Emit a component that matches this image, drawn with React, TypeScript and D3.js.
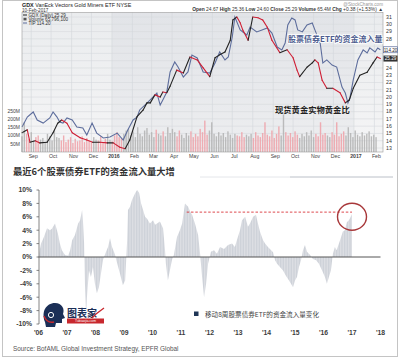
import React from "react";
import * as d3 from "d3";

// ---------- Top chart (StockCharts GDX) ----------
const gdxDates = [
  "2015-08-18","2015-08-26","2015-08-30","2015-09-07","2015-09-14","2015-09-25","2015-10-04","2015-10-11",
  "2015-10-17","2015-10-25","2015-11-02","2015-11-14","2015-11-24","2015-12-03","2015-12-14","2015-12-25",
  "2016-01-03","2016-01-13","2016-01-21","2016-01-28","2016-02-08","2016-02-17","2016-02-23","2016-02-28",
  "2016-03-06","2016-03-14","2016-03-18","2016-03-24","2016-03-29","2016-04-08","2016-04-18","2016-04-28",
  "2016-05-09","2016-05-18","2016-05-28","2016-06-05","2016-06-12","2016-06-20","2016-06-28","2016-07-02",
  "2016-07-08","2016-07-13","2016-07-17","2016-07-25","2016-08-01","2016-08-09","2016-08-16","2016-08-23",
  "2016-08-30","2016-09-11","2016-09-22","2016-10-01","2016-10-07","2016-10-11","2016-10-22","2016-10-30",
  "2016-11-03","2016-11-08","2016-11-14","2016-11-21","2016-11-30","2016-12-11","2016-12-19","2016-12-25",
  "2016-12-31","2017-01-10","2017-01-21","2017-01-30","2017-02-05","2017-02-10"
];
const gdxClose = [
  15.1,15.5,13.8,14.0,13.7,13.8,15.1,16.4,
  16.85,16.4,15.1,14.4,14.1,13.8,13.8,13.7,
  13.7,13.1,12.9,14.1,17.3,18.2,19.2,19.2,
  20.3,20.0,20.7,20.6,21.5,23.7,23.3,25.5,
  25.1,24.0,22.8,25.4,25.8,26.2,27.8,30.6,
  31.0,30.2,29.2,27.8,31.0,30.9,30.6,29.6,
  27.8,26.1,26.5,25.4,23.7,22.8,24.1,24.7,
  25.1,24.7,22.3,21.2,21.2,20.6,19.2,19.6,
  21.2,23.0,23.4,24.7,25.5,25.29
];
const tipDates = [
  "2015-08-18","2015-08-26","2015-09-04","2015-09-10","2015-09-19","2015-09-29","2015-10-04","2015-10-10",
  "2015-10-14","2015-10-19","2015-10-25","2015-11-02","2015-11-09","2015-11-18","2015-11-24","2015-12-02",
  "2015-12-09","2015-12-19","2015-12-29","2016-01-09","2016-01-18","2016-01-25","2016-02-02","2016-02-08",
  "2016-02-12","2016-02-23","2016-03-03","2016-03-09","2016-03-14","2016-03-18","2016-03-24","2016-03-29",
  "2016-04-05","2016-04-10","2016-04-18","2016-04-25","2016-05-01","2016-05-09","2016-05-18","2016-05-28",
  "2016-06-05","2016-06-12","2016-06-20","2016-06-25","2016-07-01","2016-07-05","2016-07-13","2016-07-23",
  "2016-07-28","2016-08-07","2016-08-15","2016-08-23","2016-08-30","2016-09-07","2016-09-14","2016-09-19",
  "2016-09-23","2016-09-29","2016-10-04","2016-10-08","2016-10-15","2016-10-22","2016-10-30","2016-11-03",
  "2016-11-11","2016-11-15","2016-11-21","2016-11-29","2016-12-06","2016-12-14","2016-12-19","2016-12-23",
  "2016-12-26","2016-12-31","2017-01-07","2017-01-15","2017-01-21","2017-01-25","2017-02-02","2017-02-06",
  "2017-02-10"
];
const tipClose = [
  109.95,110.5,110.78,110.34,110.17,110.45,110.78,110.5,
  110.23,110.17,110.45,110.34,109.95,109.9,109.51,110.17,
  109.62,109.35,109.4,109.62,109.24,109.79,110.34,110.5,
  110.89,111.27,111.6,111.82,111.16,111.44,111.88,112.98,
  113.53,113.25,112.7,112.98,113.91,113.75,112.98,112.92,
  113.47,114.08,113.64,113.8,114.9,116.0,115.29,115.01,
  115.45,115.18,115.29,115.4,115.12,114.35,114.19,114.57,
  115.56,115.95,115.84,115.29,115.18,115.56,115.67,115.29,
  114.57,113.47,113.64,113.36,113.25,112.15,111.82,111.27,
  111.55,112.54,113.64,114.19,114.02,114.3,114.08,114.3,
  114.2
];
const volumeStart = "2015-08-18";
const volumeM = [
  95,180,110,80,120,70,90,100,75,85,60,110,95,70,130,90,
  85,70,100,60,75,90,55,80,65,70,95,60,85,70,60,90,75,
  70,95,60,80,110,75,65,100,120,90,85,110,130,
  140,100,125,90,150,110,95,130,145,105,120,90,135,110,100,125,95,150,115,140,
  120,95,130,105,85,115,100,125,90,110,95,140,120,190,105,
  130,180,110,95,120,100,115,90,125,105,85,110,100,95,120,90,105,
  95,110,85,120,100,90,115,180,105,95,130,85,110,155,100,235,120,
  100,115,90,125,105,85,110,95,120,100,130,90,110,95,180,105,115,
  100,90,120,105,180,95,110,125,100,150,115,90,130,105,95,120,100,110,125,95,105,90
];
const monthTickDates = [
  "2015-09-01","2015-10-01","2015-11-01","2015-12-01","2016-01-01","2016-02-01","2016-03-01","2016-04-01","2016-05-01",
  "2016-06-01","2016-07-01","2016-08-01","2016-09-01","2016-10-01","2016-11-01","2016-12-01","2017-01-01","2017-02-01"
];
const monthTickLabels = ["Sep","Oct","Nov","Dec","2016","Feb","Mar","Apr","May","Jun","Jul","Aug","Sep","Oct","Nov","Dec","2017","Feb"];
const priceTicks = [13,14,15,16,17,18,19,20,21,22,23,24,25,26,27,28,29,30,31];
const volumeTicks = [50,100,150,200,250];
const volumeTickLabels = ["50M","100M","150M","200M","250M"];
const lastGdx = 25.29;
const lastTip = 114.2;

// ---------- Bottom chart (8-week equity/bond ETF flows) ----------
const flowYears = [
  2006.02,2006.09,2006.19,2006.30,2006.40,2006.47,2006.58,2006.68,2006.75,2006.82,2006.93,
  2007.04,2007.11,2007.18,2007.28,2007.39,2007.46,2007.53,2007.56,2007.60,2007.63,2007.67,2007.70,2007.77,2007.84,2007.91,2007.98,
  2008.05,2008.12,2008.19,2008.26,2008.37,2008.44,2008.51,2008.58,2008.68,2008.75,2008.86,2008.96,
  2009.04,2009.07,2009.11,2009.14,2009.21,2009.28,2009.39,2009.46,2009.53,2009.60,2009.67,2009.74,2009.81,2009.91,
  2010.02,2010.09,2010.16,2010.26,2010.37,2010.44,2010.47,2010.54,2010.61,2010.68,2010.75,2010.86,2010.96,
  2011.04,2011.14,2011.25,2011.32,2011.39,2011.49,2011.60,2011.67,2011.74,2011.81,2011.88,2011.95,
  2012.05,2012.16,2012.26,2012.37,2012.51,2012.65,2012.79,2012.89,2012.96,
  2013.07,2013.14,2013.25,2013.35,2013.42,2013.53,2013.63,2013.70,2013.77,2013.88,2013.95,
  2014.05,2014.12,2014.23,2014.30,2014.37,2014.47,2014.58,2014.68,2014.79,2014.86,2014.93,
  2015.00,2015.07,2015.14,2015.21,2015.28,2015.35,2015.42,2015.53,2015.63,2015.74,2015.84,2015.95,
  2016.05,2016.12,2016.19,2016.26,2016.33,2016.40,2016.46,2016.58,2016.68,2016.75,2016.82,2016.89,2016.93,2017.00
];
const flowPct = [
  0.5,2.0,3.0,4.3,4.0,4.2,5.0,3.5,2.0,1.0,0.3,
  0.2,1.0,2.5,3.3,5.0,5.5,7.0,5.4,2.0,-4.0,-8.7,-6.0,-2.0,-3.0,-1.5,-4.0,
  -5.4,-4.5,-2.5,-0.5,0.8,1.5,2.8,1.5,0.4,-0.8,-2.5,-4.2,
  -3.5,-1.0,2.5,7.0,7.5,8.5,9.5,10.0,9.6,8.0,7.0,6.0,5.7,5.0,
  5.5,4.8,5.0,5.3,4.3,1.0,-1.0,-3.5,-2.0,-0.5,0.3,3.0,4.0,
  5.0,8.0,7.5,6.8,6.3,5.0,3.3,0.5,-3.0,-6.0,-4.0,-1.0,
  0.8,1.0,0.5,1.5,1.2,1.8,2.0,1.5,2.5,
  4.0,5.5,6.0,4.5,5.0,6.0,6.3,5.0,3.8,2.5,2.0,
  1.5,1.2,0.7,-0.5,-1.0,-1.5,-2.0,-2.8,-3.5,-4.0,-4.5,
  -3.5,-3.0,-1.5,-0.5,1.0,1.8,0.8,0.3,-0.3,-0.5,-1.0,-2.0,
  -3.0,-4.0,-3.0,-2.0,0.5,1.5,1.0,2.5,3.8,4.0,5.2,5.5,5.8,6.4
];
const flowTicks = [-10,-8,-6,-4,-2,0,2,4,6,8,10];
const yearTicks = [2006,2007,2008,2009,2010,2011,2012,2013,2014,2015,2016,2017,2018];
const yearTickLabels = ["'06","'07","'08","'09","'10","'11","'12","'13","'14","'15","'16","'17","'18"];
const highlightLevel = 6.7;
const highlightFrom = 2011.2;
const highlightTo = 2017.0;
const circleCenter = { year: 2017.0, pct: 6.0 };

const LAT = "'Liberation Sans', Arial, sans-serif";
const CJK = "'Noto Sans CJK SC', 'Liberation Sans', sans-serif";

export default function App() {
  const parse = d3.timeParse("%Y-%m-%d")!;
  const gd = gdxDates.map((d) => parse(d)!);
  const td = tipDates.map((d) => parse(d)!);
  const mt = monthTickDates.map((d) => parse(d)!);
  const vStart = parse(volumeStart)!;
  const vd = volumeM.map((_, i) => d3.timeHour.offset(vStart, i * 84));

  const x = d3.scaleTime().domain([parse("2015-08-18")!, parse("2017-02-14")!]).range([22, 383]);
  const yP = d3.scaleLinear().domain([13, 31]).range([148, 17]);
  const yT = d3.scaleLinear().domain([108.8, 116]).range([148, 17]);
  const yV = d3.scaleLinear().domain([0, 250]).range([152, 110.7]);
  const priceAt = d3.scaleTime<number>().domain(gd).range(gdxClose).clamp(true);

  const tipLine = d3.line<number>().x((_, i) => x(td[i])).y((v) => yT(v))(tipClose) || "";

  const plotL = 22, plotR = 383, plotT = 12.5, plotB = 152;
  const y2016a = x(parse("2016-01-01")!);
  const y2017a = x(parse("2017-01-01")!);
  const tagYs = [yT(lastTip), yP(lastGdx)];

  // bottom
  const xb = d3.scaleLinear().domain([2006, 2018]).range([38.5, 380.5]);
  const yb = d3.scaleLinear().domain([-10, 10]).range([324, 190]);
  const area = d3.area<number>().x((_, i) => xb(flowYears[i])).y0(yb(0)).y1((v) => yb(v))(flowPct) || "";

  return (
    <svg width={400} height={359} style={{ position: "absolute", left: 0, top: 0, background: "#fff" }}>
      <defs>
        <pattern id="stripes" width={1.6} height={4} patternUnits="userSpaceOnUse">
          <rect width={1.6} height={4} fill="#e4e6ea" />
          <rect width={1} height={4} fill="#ccd0d7" />
        </pattern>
        <linearGradient id="bgL" x1="0" y1="0" x2="0" y2="1">
          <stop offset="0" stopColor="#eaecee" />
          <stop offset="1" stopColor="#f5f5f6" />
        </linearGradient>
        <linearGradient id="bgD" x1="0" y1="0" x2="0" y2="1">
          <stop offset="0" stopColor="#e2e4e8" />
          <stop offset="1" stopColor="#edeef0" />
        </linearGradient>
      </defs>
      <rect x={2.5} y={0.5} width={395} height={356} fill="#fff" stroke="#c4c4c4" />

      {/* ---------- top chart ---------- */}
      <rect x={plotL} y={plotT} width={y2016a - plotL} height={plotB - plotT} fill="url(#bgL)" />
      <rect x={y2016a} y={plotT} width={y2017a - y2016a} height={plotB - plotT} fill="url(#bgD)" />
      <rect x={y2017a} y={plotT} width={plotR - y2017a} height={plotB - plotT} fill="url(#bgL)" />
      {priceTicks.map((p) => (
        <line key={"hp" + p} x1={plotL} x2={plotR} y1={yP(p)} y2={yP(p)} stroke="#d6dade" strokeWidth={0.6} />
      ))}
      {mt.map((d, i) => (
        <line key={"vm" + i} x1={x(d)} x2={x(d)} y1={plotT} y2={plotB} stroke="#d3d7dc" strokeWidth={0.6} />
      ))}
      {volumeM.map((v, i) => {
        const t = vd[i];
        const down = priceAt(d3.timeHour.offset(t, 84)) < priceAt(t);
        return (
          <rect key={"v" + i} x={x(t) - 0.7} y={yV(v)} width={1.4} height={yV(0) - yV(v)}
            fill={down ? "#eea4ab" : "#b5b5b5"} opacity={0.9} />
        );
      })}
      <path d={tipLine} fill="none" stroke="#5d6d9c" strokeWidth={1.1} />
      {gdxClose.slice(1).map((v, i) => (
        <line key={"g" + i} x1={x(gd[i])} y1={yP(gdxClose[i])} x2={x(gd[i + 1])} y2={yP(v)}
          stroke={v < gdxClose[i] ? "#cf1f35" : "#222"} strokeWidth={1.1} strokeLinecap="round" />
      ))}
      <rect x={plotL} y={plotT} width={plotR - plotL} height={plotB - plotT} fill="none" stroke="#9a9a9a" strokeWidth={0.6} />

      {/* header */}
      <text x={22} y={6.5} fontFamily={LAT} fontSize={5.4} fill="#222">
        <tspan fontWeight="bold">GDX</tspan> VanEck Vectors Gold Miners ETF  NYSE
      </text>
      <text x={22} y={11.6} fontFamily={LAT} fontSize={4.6} fill="#333">10-Feb-2017</text>
      <text x={383} y={5.5} textAnchor="end" fontFamily={LAT} fontSize={4.6} fill="#999">@StockCharts.com</text>
      <text x={383} y={11.3} textAnchor="end" fontFamily={LAT} fontSize={4.9} fill="#333">
        <tspan fontWeight="bold">Open</tspan> 24.67 <tspan fontWeight="bold">High</tspan> 25.36 <tspan fontWeight="bold">Low</tspan> 24.60 <tspan fontWeight="bold">Close</tspan> 25.29 <tspan fontWeight="bold">Volume</tspan> 65.4M <tspan fontWeight="bold">Chg</tspan> +0.38 (+1.53%) ▲
      </text>
      <g fontFamily={LAT} fontSize={4.6} fill="#333">
        <line x1={23} x2={27} y1={15} y2={15} stroke="#222" strokeWidth={1} />
        <text x={28.5} y={16.6}>GDX (Daily) 25.29</text>
        <rect x={23.5} y={17.8} width={3} height={2.6} fill="#555" />
        <text x={28.5} y={20.6}>Volume 65,796,100</text>
        <line x1={23} x2={27} y1={23} y2={23} stroke="#5d6d9c" strokeWidth={1} />
        <text x={28.5} y={24.6}>TIP 114.20</text>
      </g>

      {/* axes */}
      {priceTicks.filter((p) => tagYs.every((ty) => Math.abs(yP(p) - ty) > 5.5)).map((p) => (
        <text key={"pt" + p} x={386} y={yP(p) + 1.8} fontFamily={LAT} fontSize={5.2} fill="#333">{p}</text>
      ))}
      <rect x={383.5} y={yT(lastTip) - 3} width={14} height={6} fill="#fff" stroke="#5d6d9c" strokeWidth={0.7} />
      <text x={390.5} y={yT(lastTip) + 1.8} textAnchor="middle" fontFamily={LAT} fontSize={4.6} fill="#222">114.20</text>
      <rect x={383.5} y={yP(lastGdx) - 3} width={14} height={6} fill="#333" />
      <text x={390.5} y={yP(lastGdx) + 1.8} textAnchor="middle" fontFamily={LAT} fontSize={4.6} fill="#fff">25.29</text>
      {volumeTicks.map((v, i) => (
        <text key={"vt" + v} x={20} y={yV(v) + 1.8} textAnchor="end" fontFamily={LAT} fontSize={5} fill="#444">{volumeTickLabels[i]}</text>
      ))}
      {mt.map((d, i) => (
        <text key={"ml" + i} x={x(d) + 2} y={157.5} textAnchor="middle" fontFamily={LAT} fontSize={5.2}
          fontWeight={monthTickLabels[i].length === 4 ? "bold" : "normal"} fill="#444">{monthTickLabels[i]}</text>
      ))}

      {/* annotations */}
      <text x={288} y={42} fontFamily={CJK} fontSize={8} fontWeight="bold" fill="#4d5d8f"
        stroke="#fff" strokeWidth={1.6} paintOrder="stroke">股票债券ETF的资金流入量</text>
      <text x={275} y={113} fontFamily={CJK} fontSize={8.3} fontWeight="bold" fill="#222"
        stroke="#f0f0f0" strokeWidth={1.4} paintOrder="stroke">现货黄金实物黄金比</text>

      {/* ---------- bottom chart ---------- */}
      <text x={13} y={174.5} fontFamily={CJK} fontSize={9.3} fontWeight="bold" fill="#333">最近6个股票债券ETF的资金流入量大增</text>
      <line x1={200} x2={290} y1={177} y2={177} stroke="#dde0e4" strokeWidth={0.8} />
      <line x1={290} x2={393} y1={177} y2={177} stroke="#a9b0ba" strokeWidth={0.8} />

      <path d={area} fill="url(#stripes)" />
      <line x1={xb(2006)} x2={xb(2018)} y1={yb(0)} y2={yb(0)} stroke="#555" strokeWidth={1} />
      <line x1={39} x2={39} y1={yb(10)} y2={yb(-10)} stroke="#666" strokeWidth={0.8} />
      {flowTicks.map((t) => (
        <g key={"ft" + t}>
          <line x1={36.5} x2={39} y1={yb(t)} y2={yb(t)} stroke="#666" strokeWidth={0.8} />
          <text x={32} y={yb(t) + 2.4} textAnchor="end" fontFamily={LAT} fontSize={6.8} fontWeight="bold" fill="#3c3c3c">{t}%</text>
        </g>
      ))}
      {yearTicks.map((yr, i) => (
        <text key={"yt" + yr} x={xb(yr)} y={334.5} textAnchor="middle" fontFamily={LAT} fontSize={6.8} fontWeight="bold" fill="#3c3c3c">{yearTickLabels[i]}</text>
      ))}
      <line x1={xb(highlightFrom)} x2={xb(highlightTo)} y1={yb(highlightLevel)} y2={yb(highlightLevel)}
        stroke="#d9343a" strokeWidth={0.9} strokeDasharray="2.5,1.8" />
      <ellipse cx={xb(circleCenter.year)} cy={yb(circleCenter.pct)} rx={14.5} ry={13.5} fill="none" stroke="#a8383a" strokeWidth={1.4} />

      {/* legend */}
      <rect x={194} y={311.5} width={4.5} height={4.5} fill="#1f3556" />
      <text x={205} y={317} fontFamily={CJK} fontSize={6.6} fill="#444">移动8周股票债券ETF的资金流入量变化</text>

      {/* logo */}
      <g>
        <path d="M45,322 C41,312 46,303 55,303 C62,303 65,309 63,314 L65,318 L62,319 L62,323 L56,323 L55,327 L46,327 Z" fill="#1b2f57" />
        <circle cx={51} cy={315} r={2.6} fill="none" stroke="#fff" strokeWidth={1} />
        <path d="M44,316 C46,321 50,323 54,322" fill="none" stroke="#c8282e" strokeWidth={1.4} />
        <text x={67} y={317} fontFamily={CJK} fontSize={10} fontWeight="bold" fill="#1b2f57">图表家</text>
        <rect x={67} y={318.5} width={37} height={5} fill="#c8282e" />
        <text x={85.5} y={322.3} textAnchor="middle" fontFamily={LAT} fontSize={3.4} fill="#fff">Tubiaojia.com</text>
        <path d="M92,318 L96,314 L104,308" fill="none" stroke="#c8282e" strokeWidth={1.3} />
      </g>

      <text x={13} y={351} fontFamily={LAT} fontSize={6.4} fill="#555">Source: BofAML Global Investment Strategy, EPFR Global</text>
    </svg>
  );
}
